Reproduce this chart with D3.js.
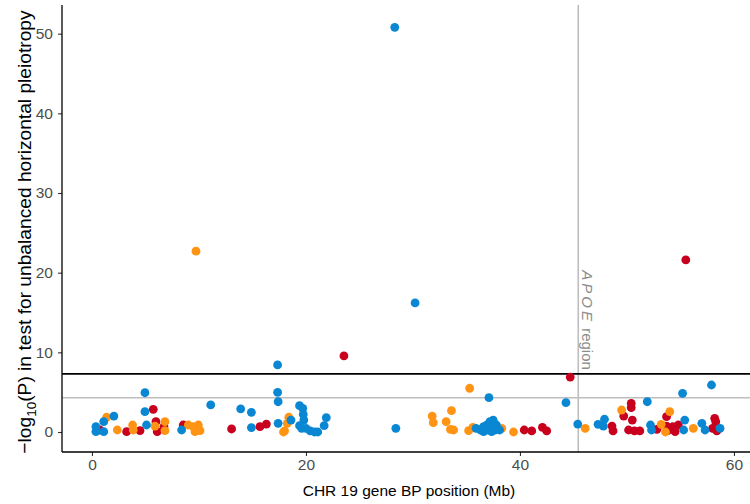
<html lang="en">
<head>
  <title>CHR 19 horizontal pleiotropy</title>
  <meta charset="utf-8">
  <script src="https://cdn.jsdelivr.net/npm/d3@7"></script>
  <style>
    body { margin: 0; background: white; font-family: 'Liberation Sans', Arial, sans-serif; }
    .axis_title { fill: black; }
  </style>
</head>
<body>
  <svg id = 'canvas' width = '750' height = '504'></svg>

<script>

// gene BP position (Mb), -log10(P) per group
var blue_pos = [28.3, 30.2, 17.35, 17.35, 17.4, 4.95, 4.95, 5.1, 0.37, 0.37, 1.1, 1.1, 2.05, 8.38, 11.1, 13.9, 14.9, 14.9, 17.4,
                18.6, 19.4, 19.7, 19.75, 19.8, 19.4, 19.6, 20.0, 20.4, 20.8, 21.1, 21.7, 21.9, 28.4, 37.1,
                36.6, 37.2, 37.5, 36.9, 37.8, 38.1, 37.35, 36.6, 36.3, 35.9, 37.7, 37.0, 37.5,
                44.3, 45.4, 47.3, 47.9, 47.8, 51.9, 52.2, 52.3, 55.2, 55.4, 55.3, 57.0, 57.3, 57.9, 58.7];
var blue_p   = [50.8, 16.2, 8.42, 4.98, 3.8, 4.93, 2.55, 0.88, 0.67, 0.04, 1.3, 0.04, 2.0, 0.25, 3.4, 2.9, 2.47, 0.55, 1.09,
                1.5, 3.3, 2.97, 2.2, 1.5, 0.8, 0.46, 0.46, 0.13, 0.0, 0.0, 0.8, 1.8, 0.46, 4.31,
                0.67, 1.3, 1.5, 0.88, 0.88, 0.25, 0.04, 0.04, 0.25, 0.46, 0.25, 0.25, 0.88,
                3.68, 1.0, 0.97, 1.6, 0.75, 3.8, 0.88, 0.25, 4.86, 1.5, 0.25, 1.09, 0.25, 5.9, 0.46];

var orange_pos = [9.72, 1.37, 2.37, 3.8, 3.86, 5.89, 6.82, 6.82, 9.0, 9.47, 9.94, 9.63, 10.1, 18.4, 18.25, 18.0, 17.9,
                  31.8, 31.9, 33.6, 33.1, 33.5, 33.8, 35.3, 35.2, 35.6, 38.3, 39.4,
                  46.1, 49.5, 53.2, 54.0, 53.6, 56.2];
var orange_p   = [22.7, 1.85, 0.25, 0.88, 0.25, 0.75, 1.3, 0.17, 0.88, 0.67, 0.88, 0.04, 0.17, 1.85, 1.09, 0.13, 0.0,
                  2.0, 1.17, 2.68, 1.3, 0.34, 0.25, 5.49, 0.17, 0.59, 0.46, 0.0,
                  0.46, 2.76, 0.97, 2.55, 0.0, 0.46];

var red_pos = [23.55, 55.5, 44.7, 0.75, 3.24, 4.49, 5.73, 5.98, 6.1, 6.73, 8.53, 13.05, 15.7, 16.3,
               40.4, 41.1, 42.1, 42.5, 48.6, 48.7, 49.7, 50.4, 50.4, 50.5, 50.15, 50.7, 51.2, 52.8,
               53.7, 53.7, 53.8, 54.3, 54.5, 54.8, 58.2, 58.3, 58.0, 58.4];
var red_p   = [9.55, 21.6, 6.9, 0.25, 0.04, 0.17, 2.85, 1.3, 0.04, 0.67, 0.88, 0.38, 0.67, 1.0,
               0.25, 0.13, 0.59, 0.13, 0.75, 0.13, 2.0, 3.6, 3.05, 1.5, 0.25, 0.13, 0.13, 0.34,
               1.92, 0.75, 0.17, 0.67, 0.04, 0.88, 1.72, 1.3, 0.46, 0.13];

var x_ticks = [0, 20, 40, 60];
var y_ticks = [0, 10, 20, 30, 40, 50];

var genome_wide = 7.3, suggestive = 4.3, apoe_pos = 45.45;

var groups = [{ pos: red_pos, p: red_p, color: '#c8001e' },
              { pos: orange_pos, p: orange_p, color: '#ff9414' },
              { pos: blue_pos, p: blue_p, color: '#0a87d2' }];

/*******************************************************************************/

var svg = d3.select('#canvas');
var m_left = 62, m_right = 750, m_top = 5, m_bottom = 452;

var xScale = d3.scaleLinear().domain([-2.8, 61.5]).range([m_left, m_right]);
var yScale = d3.scaleLinear().domain([-2.51, 53.6]).range([m_bottom, m_top]);

// reference lines
svg.append('line').attr('x1', xScale(apoe_pos)).attr('x2', xScale(apoe_pos)).attr('y1', m_top).attr('y2', m_bottom)
  .style('stroke', '#bebebe').style('stroke-width', 1.6);
svg.append('line').attr('x1', m_left).attr('x2', m_right).attr('y1', yScale(suggestive)).attr('y2', yScale(suggestive))
  .style('stroke', '#bebebe').style('stroke-width', 1.6);
svg.append('line').attr('x1', m_left).attr('x2', m_right).attr('y1', yScale(genome_wide)).attr('y2', yScale(genome_wide))
  .style('stroke', 'black').style('stroke-width', 1.6);

// APOE label
var lab = svg.append('text').attr('transform', 'translate(' +(xScale(apoe_pos) + 10)+ ',' +(yScale(genome_wide) - 4)+ ') rotate(90)')
  .attr('text-anchor', 'end').attr('dominant-baseline', 'central')
  .style('font-size', '15px').style('fill', '#8c8c8c');
lab.append('tspan').style('font-style', 'italic').attr('letter-spacing', '3px').text('APOE');
lab.append('tspan').text(' region');

// points
groups.forEach(function(g){
  svg.append('g').selectAll('circle').data(d3.range(g.pos.length)).enter()
    .append('circle')
    .attr('cx', function(i){ return xScale(g.pos[i]) })
    .attr('cy', function(i){ return yScale(g.p[i]) })
    .attr('r', 4.4)
    .style('fill', g.color);
});

// axes
var xAxis = svg.append('g').attr('transform', 'translate(0,' +m_bottom+ ')')
  .call(d3.axisBottom(xScale).tickValues(x_ticks).tickSize(4).tickPadding(3));
var yAxis = svg.append('g').attr('transform', 'translate(' +m_left+ ',0)')
  .call(d3.axisLeft(yScale).tickValues(y_ticks).tickSize(4).tickPadding(5));

[xAxis, yAxis].forEach(function(a){
  a.select('.domain').remove();
  a.selectAll('line').style('stroke', '#333').style('stroke-width', 1.1);
  a.selectAll('text').style('font-size', '15.5px').style('fill', '#4d4d4d').style('font-family', 'Liberation Sans, Arial, sans-serif');
});

svg.append('line').attr('x1', m_left).attr('x2', m_right).attr('y1', m_bottom).attr('y2', m_bottom).style('stroke', 'black').style('stroke-width', 1.3);
svg.append('line').attr('x1', m_left).attr('x2', m_left).attr('y1', m_top).attr('y2', m_bottom).style('stroke', 'black').style('stroke-width', 1.3);

// titles
svg.append('text').attr('class', 'axis_title').attr('x', (m_left + m_right) / 2 + 3).attr('y', 496)
  .attr('text-anchor', 'middle').style('font-size', '15.5px').text('CHR 19 gene BP position (Mb)');

var yt = svg.append('text').attr('class', 'axis_title')
  .attr('transform', 'translate(' +31+ ',' +232+ ') rotate(-90)')
  .attr('text-anchor', 'middle').style('font-size', '19.2px');
yt.append('tspan').text('\u2212log');
yt.append('tspan').attr('dy', 5).style('font-size', '13.5px').text('10');
yt.append('tspan').attr('dy', -5).text('(P) in test for unbalanced horizontal pleiotropy');

</script>
</body>
</html>
